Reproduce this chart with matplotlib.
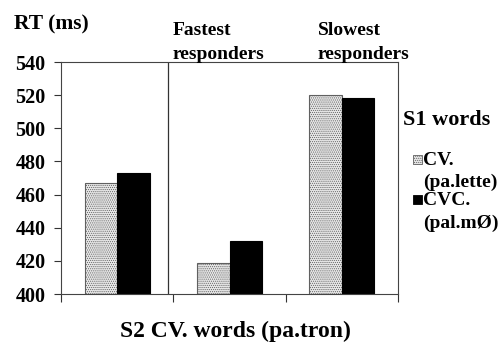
import matplotlib.pyplot as plt
from matplotlib.patches import Rectangle
import numpy as np

# Mean RT per responder group, for S1 word type
groups = ["", "Fastest\nresponders", "Slowest\nresponders"]
cv_rt = [467, 419, 520]    # CV. (pa.lette)
cvc_rt = [473, 432, 518]   # CVC. (pal.mØ)
yticks = [400, 420, 440, 460, 480, 500, 520, 540]

plt.rcParams['font.family'] = ['Liberation Serif', 'DejaVu Serif']
plt.rcParams['font.weight'] = 'bold'
plt.rcParams['hatch.linewidth'] = 0.5

W, H = 503, 345
fig = plt.figure(figsize=(W / 100, H / 100), dpi=100)
ax = fig.add_axes([61 / W, 1 - 294 / H, 337 / W, 232 / H])

x = np.arange(len(groups)) + 0.5
bw = 0.29
ax.bar(x - bw / 2, np.array(cv_rt) - 400, bw, bottom=400, facecolor='#e6e6e6',
       edgecolor='#606060', hatch='........', linewidth=0.8, zorder=2)
ax.bar(x + bw / 2, np.array(cvc_rt) - 400, bw, bottom=400, facecolor='black',
       edgecolor='black', linewidth=0.8, zorder=2)

# divider between the first group and the responder groups
ax.axvline(0.953, color='#333333', lw=0.9, zorder=1)

ax.set_xlim(0, 3)
ax.set_ylim(400, 540)
ax.set_yticks(yticks)
ax.set_xticks([0, 1, 2, 3])
ax.set_xticklabels([])
ax.tick_params(axis='y', direction='out', length=5, width=0.8, pad=6,
               labelsize=14.5, color='#333333')
ax.tick_params(axis='x', direction='out', length=6, width=0.8, color='#333333')
for lab in ax.get_yticklabels():
    lab.set_fontweight('bold')
for s in ax.spines.values():
    s.set_color('#444444')
    s.set_linewidth(0.8)


def ft(px, py, s, size=14, ha='left'):
    fig.text(px / W, 1 - py / H, s, fontsize=size, fontweight='bold',
             ha=ha, va='baseline')


ft(14, 29, "RT (ms)", 15.5)
for gx, label in zip([173, 318], groups[1:]):
    line1, line2 = label.split("\n")
    ft(gx, 35, line1)
    ft(gx, 59, line2)

ft(235, 337, "S2 CV. words (pa.tron)", 17, ha='center')

# legend
ft(403, 125, "S1 words", 16)
fig.patches.append(Rectangle((413 / W, 1 - 164 / H), 9 / W, 9 / H,
                             transform=fig.transFigure, facecolor='#e6e6e6',
                             edgecolor='#606060', hatch='........', linewidth=0.6))
ft(423, 165, "CV.")
ft(423, 187, "(pa.lette)")
fig.patches.append(Rectangle((413 / W, 1 - 204 / H), 9 / W, 9 / H,
                             transform=fig.transFigure, facecolor='black',
                             edgecolor='black', linewidth=0.6))
ft(423, 205, "CVC.")
ft(423, 228, "(pal.mØ)")

fig.savefig("out.png", dpi=100)
